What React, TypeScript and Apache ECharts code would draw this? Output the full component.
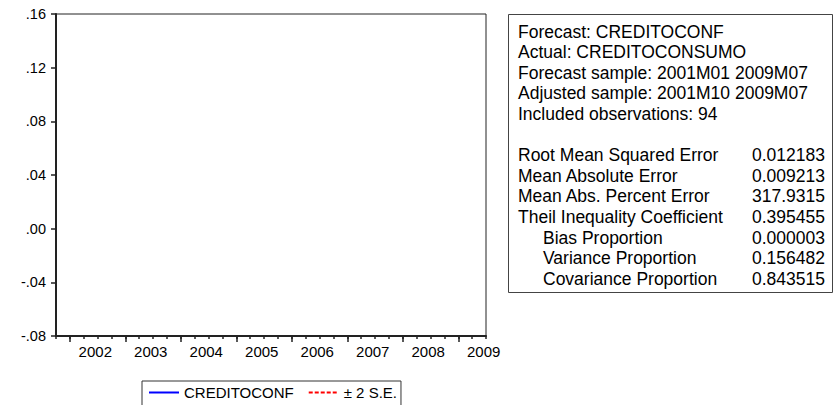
import React, { useEffect, useRef } from "react";
import * as echarts from "echarts";

// Monthly index: 0 = 2001M10 ... 93 = 2009M07 (adjusted sample, 94 obs)
const lastIndex = 93;
const yearLabels = ["2002", "2003", "2004", "2005", "2006", "2007", "2008", "2009"];
const firstJanIndex = 3; // 2002M01

// Series values (nothing visible in the plotted range)
const forecastValues: [number, number][] = [];
const upperSE: [number, number][] = [];
const lowerSE: [number, number][] = [];

const infoLines = [
  "Forecast: CREDITOCONF",
  "Actual: CREDITOCONSUMO",
  "Forecast sample: 2001M01 2009M07",
  "Adjusted sample: 2001M10 2009M07",
  "Included observations: 94",
];
const statNames = [
  "Root Mean Squared Error",
  "Mean Absolute Error",
  "Mean Abs. Percent Error",
  "Theil Inequality Coefficient",
  "Bias Proportion",
  "Variance Proportion",
  "Covariance Proportion",
];
const statValues = ["0.012183", "0.009213", "317.9315", "0.395455", "0.000003", "0.156482", "0.843515"];
const statIndent = [false, false, false, false, true, true, true];

const FONT = '"Liberation Sans", Arial, Helvetica, sans-serif';
const BOX_FONT = '17.5px "Liberation Sans", Arial, Helvetica, sans-serif';

export default function App() {
  const ref = useRef<HTMLDivElement>(null);

  useEffect(() => {
    if (!ref.current) return;
    const chart = echarts.init(ref.current, undefined, { renderer: "svg" });

    const majorTicks = yearLabels.map((_, i) => firstJanIndex + 12 * i);
    const labelPos = yearLabels.map((_, i) => firstJanIndex + 12 * i + 5.5);
    const minorTicks: number[] = [];
    for (let m = 0; m <= lastIndex; m += 3) minorTicks.push(m);

    const rowH = 20.6;
    const row0 = 31.5;
    const graphics: any[] = [
      {
        type: "rect",
        shape: { x: 508.5, y: 14.5, width: 324, height: 278 },
        style: { fill: "#fff", stroke: "#444", lineWidth: 1 },
        z: 10,
      },
    ];
    const mkText = (text: string, x: number, y: number, align: string) => ({
      type: "text",
      z: 11,
      style: {
        text,
        x,
        y,
        fill: "#000",
        font: BOX_FONT,
        textAlign: align,
        textVerticalAlign: "middle",
        align,
        verticalAlign: "middle",
      },
    });
    infoLines.forEach((t, i) => graphics.push(mkText(t, 518, row0 + i * rowH, "left")));
    statNames.forEach((t, i) => {
      const y = row0 + (i + infoLines.length + 1) * rowH;
      graphics.push(mkText(t, statIndent[i] ? 543 : 518, y, "left"));
      graphics.push(mkText(statValues[i], 825, y, "right"));
    });

    const option: any = {
      animation: false,
      backgroundColor: "#ffffff",
      textStyle: { fontFamily: FONT },
      grid: {
        left: 56,
        top: 14,
        right: 350,
        bottom: 69,
        show: true,
        borderColor: "#222",
        borderWidth: 1,
        backgroundColor: "transparent",
      },
      legend: {
        left: 142,
        top: 381,
        orient: "horizontal",
        itemWidth: 30,
        itemHeight: 14,
        itemGap: 14,
        padding: [4, 4, 14, 6],
        borderColor: "#333",
        borderWidth: 1,
        itemStyle: { opacity: 0, borderWidth: 0 },
        textStyle: { color: "#000", fontSize: 15, fontFamily: FONT },
        data: ["CREDITOCONF", "± 2 S.E."],
      },
      xAxis: [
        {
          type: "value",
          position: "bottom",
          min: 0,
          max: lastIndex,
          axisLine: { show: true, onZero: false, lineStyle: { color: "#222", width: 2 } },
          axisTick: { show: true, customValues: minorTicks, length: 3, lineStyle: { color: "#222", width: 1.5 } },
          axisLabel: {
            show: true,
            customValues: labelPos,
            margin: 8,
            color: "#000",
            fontSize: 15,
            fontFamily: FONT,
            formatter: (v: number) => {
              const i = labelPos.findIndex((p) => Math.abs(p - v) < 0.01);
              return i >= 0 ? yearLabels[i] : "";
            },
          },
          splitLine: { show: false },
        },
        {
          type: "value",
          position: "bottom",
          min: 0,
          max: lastIndex,
          axisLine: { show: false, onZero: false },
          axisTick: { show: true, customValues: majorTicks, length: 6, lineStyle: { color: "#222", width: 1.5 } },
          axisLabel: { show: false },
          splitLine: { show: false },
        },
      ],
      yAxis: {
        type: "value",
        min: -0.08,
        max: 0.16,
        interval: 0.04,
        axisLine: { show: true, onZero: false, lineStyle: { color: "#222", width: 2 } },
        axisTick: { show: true, length: 5, lineStyle: { color: "#222", width: 1.5 } },
        axisLabel: {
          margin: 10,
          color: "#000",
          fontSize: 14.5,
          fontFamily: FONT,
          formatter: (v: number) => {
            const s = Math.abs(v).toFixed(2).replace(/^0/, "");
            return (v < -1e-9 ? "-" : "") + s;
          },
        },
        splitLine: { show: false },
      },
      series: [
        {
          name: "CREDITOCONF",
          type: "line",
          data: forecastValues,
          showSymbol: false,
          symbol: "none",
          lineStyle: { color: "#0000ff", width: 1 },
          itemStyle: { color: "#0000ff" },
        },
        {
          name: "± 2 S.E.",
          type: "line",
          data: upperSE,
          showSymbol: false,
          symbol: "none",
          lineStyle: { color: "#ff0000", width: 1, type: [4, 2] },
          itemStyle: { color: "#ff0000" },
        },
        {
          name: "± 2 S.E.",
          type: "line",
          data: lowerSE,
          showSymbol: false,
          symbol: "none",
          lineStyle: { color: "#ff0000", width: 1, type: [4, 2] },
          itemStyle: { color: "#ff0000" },
        },
      ],
      graphic: graphics,
    };

    chart.setOption(option);
    return () => chart.dispose();
  }, []);

  return (
    <div
      ref={ref}
      style={{ position: "fixed", left: 0, top: 0, width: 836, height: 405, background: "#fff" }}
    />
  );
}
